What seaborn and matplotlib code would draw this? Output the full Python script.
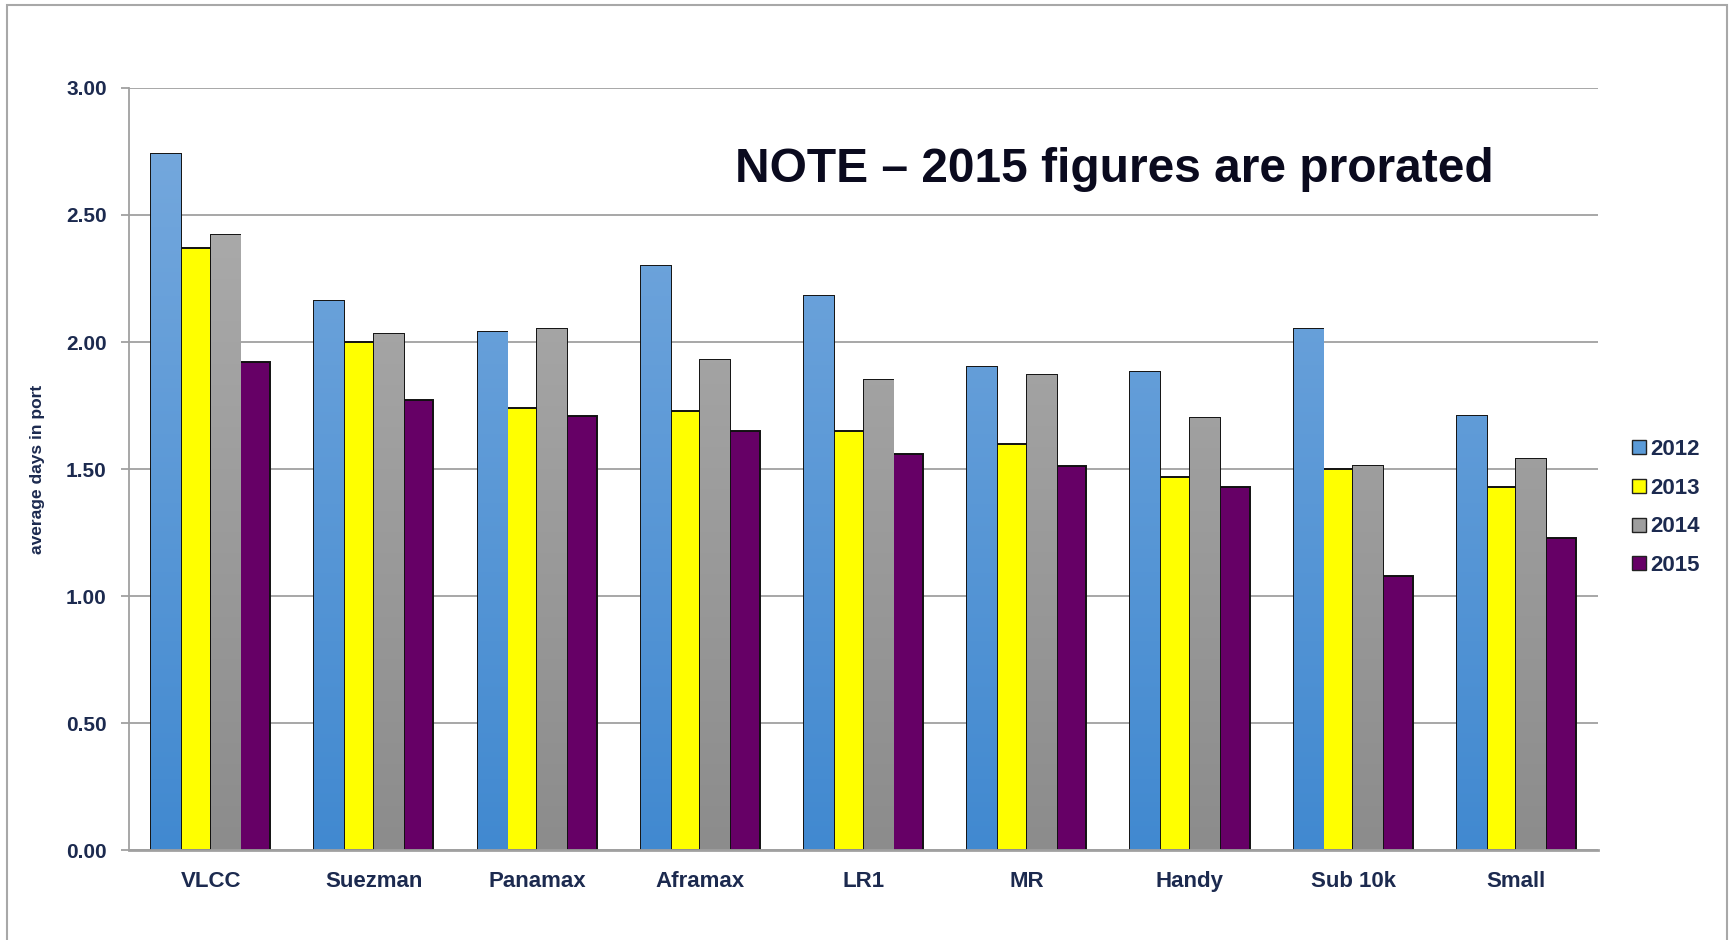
import numpy as np
import pandas as pd
import matplotlib
matplotlib.use("Agg")
import matplotlib.pyplot as plt
import seaborn as sns
from matplotlib.patches import Rectangle
from matplotlib.colors import LinearSegmentedColormap

categories = ["VLCC", "Suezman", "Panamax", "Aframax", "LR1", "MR", "Handy", "Sub 10k", "Small"]
years = ["2012", "2013", "2014", "2015"]
v2012 = [2.74, 2.16, 2.04, 2.30, 2.18, 1.90, 1.88, 2.05, 1.71]
v2013 = [2.37, 2.00, 1.74, 1.73, 1.65, 1.60, 1.47, 1.50, 1.43]
v2014 = [2.42, 2.03, 2.05, 1.93, 1.85, 1.87, 1.70, 1.51, 1.54]
v2015 = [1.92, 1.77, 1.71, 1.65, 1.56, 1.51, 1.43, 1.08, 1.23]
yticks = [0.0, 0.5, 1.0, 1.5, 2.0, 2.5, 3.0]

colors = {"2012": "#5b9bd8", "2013": "#ffff00", "2014": "#9e9e9e", "2015": "#660066"}
gradients = {"2012": ("#78aade", "#4189d0"), "2013": ("#ffff00", "#ffff00"),
             "2014": ("#b0b0b0", "#8c8c8c"), "2015": ("#660066", "#660066")}

df = pd.DataFrame({
    "category": np.repeat(categories, len(years)),
    "year": years * len(categories),
    "value": [v for vals in zip(v2012, v2013, v2014, v2015) for v in vals],
})

sns.set_theme(style="white")
plt.rcParams['font.family'] = ['Liberation Sans', 'DejaVu Sans']

fig = plt.figure(figsize=(17.3, 9.4), dpi=100)
ax = fig.add_axes([0.0746, 0.0957, 0.8491, 0.8107])

sns.barplot(data=df, x="category", y="value", hue="year", hue_order=years,
            order=categories, palette=colors, width=0.73, gap=0,
            edgecolor="#111111", linewidth=1.4, saturation=1, ax=ax, legend=True)

# gradient fills clipped to bars
for container, yr in zip(ax.containers, years):
    top, bot = gradients[yr]
    if top == bot:
        continue
    cmap = LinearSegmentedColormap.from_list(yr, [bot, top])
    for bar in container.patches:
        x0 = bar.get_x()
        w = bar.get_width()
        grad = np.linspace(0, 1, 256).reshape(-1, 1)
        im = ax.imshow(grad, cmap=cmap, origin="lower", aspect="auto",
                       extent=[x0, x0 + w, 0, 3.0], zorder=bar.get_zorder(),
                       vmin=0, vmax=1)
        im.set_clip_path(bar)
        bar.set_facecolor("none")

ax.set_xlim(-0.5, len(categories) - 0.5)
ax.set_ylim(0, 3.0)
ax.set_yticks(yticks)
ax.set_yticklabels([f"{t:.2f}" for t in yticks])
ax.yaxis.grid(True, color="#a0a0a0", linewidth=1.3)
ax.set_axisbelow(True)
for s in ["top", "right"]:
    ax.spines[s].set_visible(False)
ax.spines["left"].set_color("#a0a0a0")
ax.spines["left"].set_linewidth(1.3)
ax.spines["bottom"].set_color("#a0a0a0")
ax.spines["bottom"].set_linewidth(2)
ax.tick_params(axis="y", which="major", left=True, length=6, width=1.3, color="#a0a0a0",
               labelsize=15, labelcolor="#1c2a4f", pad=10)
ax.tick_params(axis="x", bottom=False, labelsize=16, labelcolor="#1c2a4f", pad=9)
for lab in ax.get_yticklabels() + ax.get_xticklabels():
    lab.set_fontweight("bold")

ax.set_xlabel("")
ax.set_ylabel("average days in port", fontsize=12.5, color="#1c2a4f", fontweight="bold", labelpad=15)

ax.text(0.671, 0.893, "NOTE \u2013 2015 figures are prorated", transform=ax.transAxes,
        ha="center", va="center", fontsize=34.5, fontweight="bold", color="#0a0a1e")

handles = [Rectangle((0, 0), 1, 1, facecolor=colors[y], edgecolor="#222222", linewidth=1) for y in years]
leg = fig.legend(handles, years, loc="center left", bbox_to_anchor=(0.932, 0.46),
                 frameon=False, fontsize=16, handlelength=0.6, handleheight=0.6,
                 handletextpad=0.2, labelspacing=0.8)
for t in leg.get_texts():
    t.set_color("#1c2a4f")
    t.set_fontweight("bold")
if ax.get_legend() is not None:
    ax.get_legend().remove()

# figure border
fig.patches.append(Rectangle((7 / 1730, -0.02), (1727 - 7) / 1730, 1.02 - 5 / 940,
                             transform=fig.transFigure, fill=False, edgecolor="#a8a8a8",
                             linewidth=1.5, zorder=0))

fig.savefig("out.png", dpi=100)
